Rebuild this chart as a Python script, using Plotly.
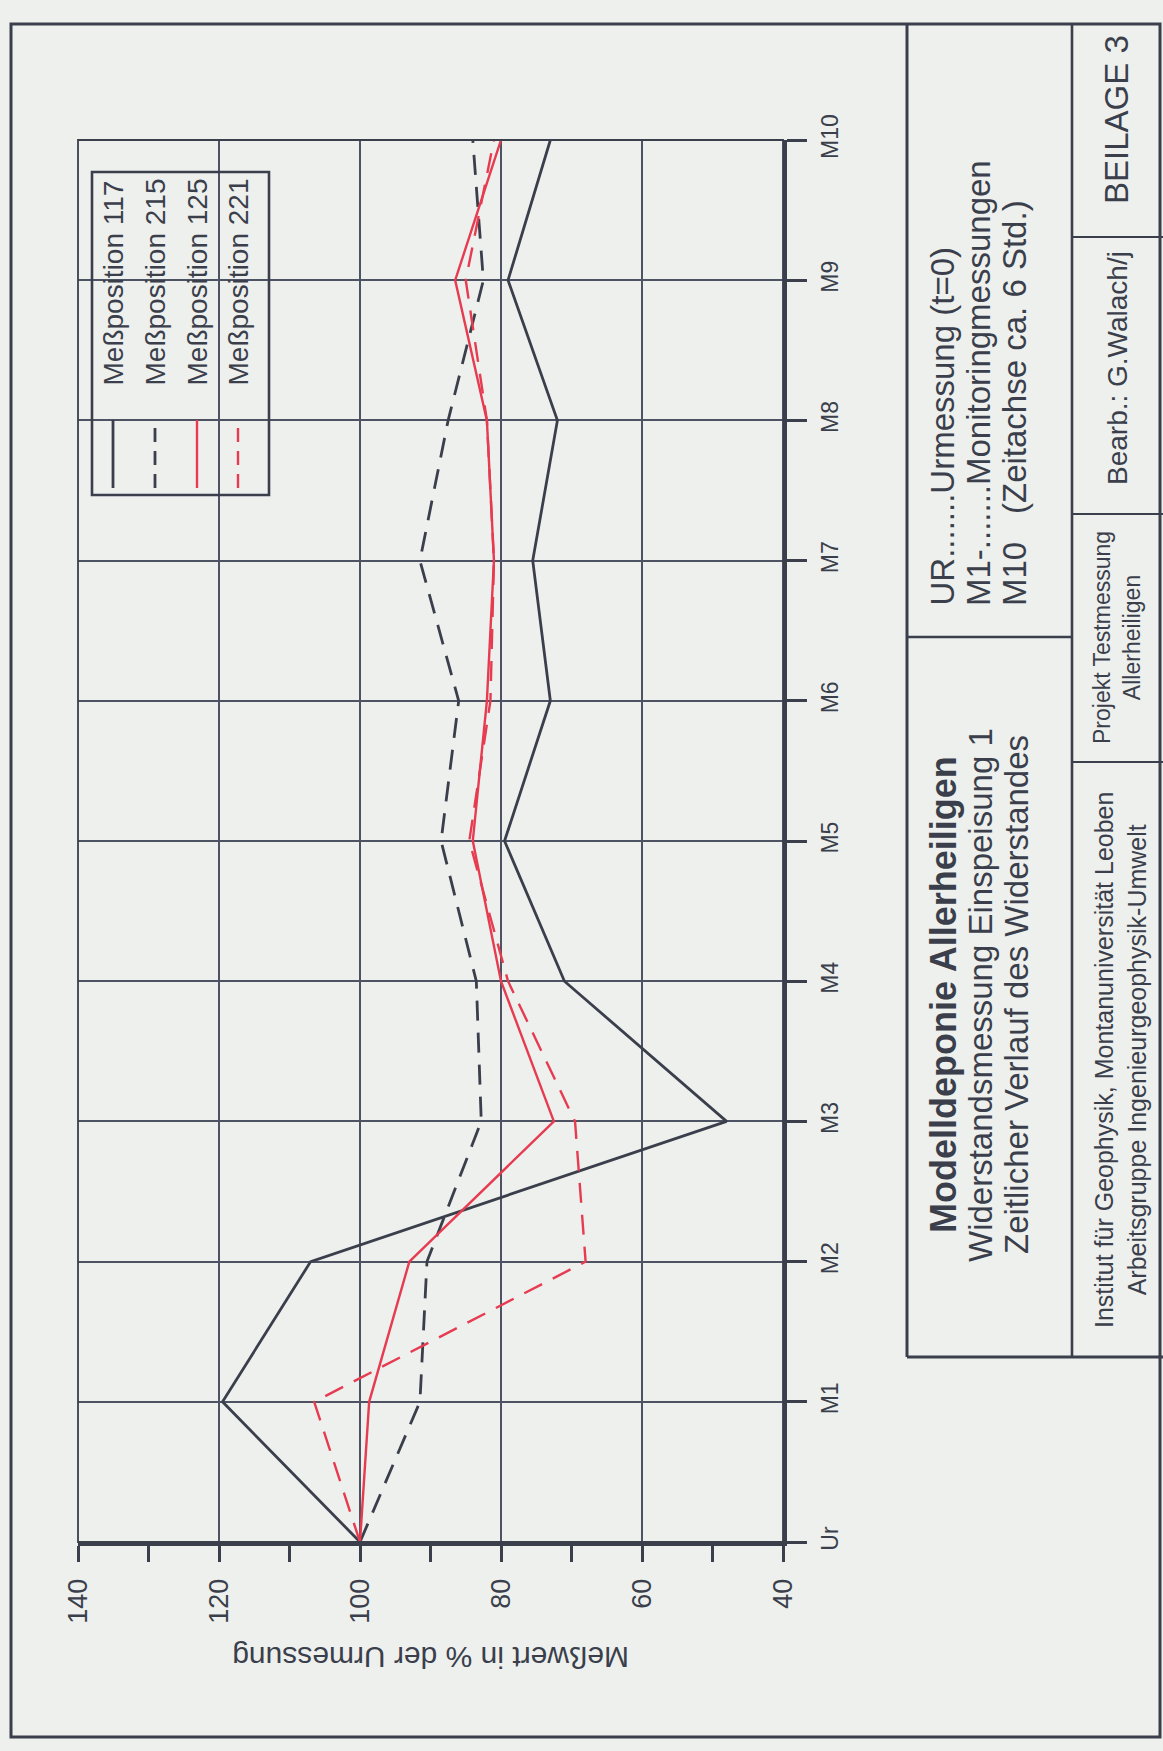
import plotly.graph_objects as go

# ---- data -------------------------------------------------------------
categories = ["Ur", "M1", "M2", "M3", "M4", "M5", "M6", "M7", "M8", "M9", "M10"]
mp117 = [100, 119.5, 107, 48, 71, 79.5, 73, 75.5, 72, 79, 73]
mp215 = [100, 91.5, 90.5, 82.8, 83.5, 88.5, 86, 91.5, 87.5, 82.5, 84]
mp125 = [100, 98.7, 93, 72.5, 80, 84, 82, 81, 82, 86.5, 80]
mp221 = [100, 106.5, 68, 69.5, 79, 84.5, 81.5, 81, 82, 85, 81]
series_names = ["Meßposition 117", "Meßposition 215", "Meßposition 125", "Meßposition 221"]
value_ticks = [140, 120, 100, 80, 60, 40]
axis_title = "Meßwert in % der Urmessung"

# ---- page geometry (pixels) ------------------------------------------
W, H = 1163, 1751
L, R, T, B = 78, 783, 140, 1542          # plot area edges

DARK = "#3a3f4b"
RED = "#e63b50"
GRID = "#4d5362"
BG = "#eef0ee"
FONT = "Liberation Sans, Arial, sans-serif"
NARROW = "Liberation Sans Narrow, Liberation Sans, Arial, sans-serif"


def px(x):
    return (x - L) / (R - L)


def py(y):
    return (B - y) / (B - T)


styles = [
    dict(color=DARK, width=2.8, dash="solid"),
    dict(color=DARK, width=2.8, dash="20px,12px"),
    dict(color=RED, width=2.4, dash="solid"),
    dict(color=RED, width=2.4, dash="20px,12px"),
]

fig = go.Figure()
for name, vals, st in zip(series_names, [mp117, mp215, mp125, mp221], styles):
    fig.add_trace(go.Scatter(x=vals, y=categories, mode="lines", name=name,
                             line=st, showlegend=False))

shapes = []
annotations = []


def line(x0, y0, x1, y1, w=2.0, color=DARK, dash=None):
    d = dict(type="line", xref="paper", yref="paper",
             x0=px(x0), y0=py(y0), x1=px(x1), y1=py(y1),
             line=dict(color=color, width=w))
    if dash:
        d["line"]["dash"] = dash
    shapes.append(d)


def rect(x0, y0, x1, y1, w=2.0):
    shapes.append(dict(type="rect", xref="paper", yref="paper",
                       x0=px(x0), y0=py(y0), x1=px(x1), y1=py(y1),
                       line=dict(color=DARK, width=w), fillcolor="rgba(0,0,0,0)"))


def vtext(text, x, y, size, yanchor="middle", family=FONT, align="center", angle=-90):
    annotations.append(dict(text=text, xref="paper", yref="paper", x=px(x), y=py(y),
                            xanchor="center", yanchor=yanchor, textangle=angle,
                            showarrow=False, align=align,
                            font=dict(family=family, size=size, color=DARK)))


# thin frame around the plot area
rect(L, T, R, B, w=1.8)

# legend box
rect(92, 172, 269, 495, w=2.6)
leg_x = [113, 155, 197, 238]
for xx, name, st in zip(leg_x, series_names, styles):
    line(xx, 488, xx, 420, w=st["width"], color=st["color"],
         dash=None if st["dash"] == "solid" else "14px,9px")
    vtext(name, xx, 388, 28, yanchor="bottom")

# outer page border
rect(11, 24, 1160, 1737, w=3)

# title block frame
line(907, 24, 907, 1357, w=3)
line(907, 1357, 1163, 1357, w=3)
line(1072, 24, 1072, 1357, w=2.6)
line(907, 637, 1072, 637, w=2.6)
for yy in [237, 514, 762]:
    line(1072, yy, 1163, yy, w=2.2)

# title block texts
vtext("UR.......Urmessung (t=0)", 942, 608, 33, yanchor="bottom")
vtext("M1-.......Monitoringmessungen", 978, 608, 33, yanchor="bottom")
vtext("M10", 1014, 608, 33, yanchor="bottom")
vtext("(Zeitachse ca. 6 Std.)", 1014, 516, 33, yanchor="bottom")

vtext("<b>Modelldeponie Allerheiligen</b>", 943, 995, 36)
vtext("Widerstandsmessung Einspeisung 1", 980, 995, 33)
vtext("Zeitlicher Verlauf des Widerstandes", 1016, 995, 33)

vtext("BEILAGE 3", 1117, 120, 33)
vtext("Bearb.: G.Walach/j", 1117, 368, 28)
vtext("Projekt Testmessung<br>Allerheiligen", 1117, 638, 23)
vtext("Institut für Geophysik, Montanuniversität Leoben<br>Arbeitsgruppe Ingenieurgeophysik-Umwelt",
      1120, 1060, 25)

# value-axis title (upside down, page is turned)
vtext(axis_title, (L + R) / 2, 1658, 30, angle=180)

fig.update_layout(
    width=W, height=H,
    margin=dict(l=L, r=W - R, t=T, b=H - B, pad=0),
    paper_bgcolor=BG, plot_bgcolor=BG,
    showlegend=False,
    shapes=shapes, annotations=annotations,
    font=dict(family=FONT, color=DARK),
)

fig.update_xaxes(
    range=[140, 40], tickvals=value_ticks, ticktext=[str(v) for v in value_ticks],
    showgrid=True, gridcolor=GRID, gridwidth=1.8,
    showline=True, linecolor=DARK, linewidth=4,
    ticks="outside", ticklen=16, tickwidth=2.6, tickcolor=DARK,
    tickangle=-90, tickfont=dict(size=27, family=FONT, color=DARK),
    ticklabelstandoff=6,
    minor=dict(dtick=10, ticks="outside", ticklen=16, tickwidth=2.6, tickcolor=DARK, showgrid=False),
    zeroline=False, fixedrange=True,
)
fig.update_yaxes(
    type="category", categoryorder="array", categoryarray=categories,
    range=[0, 10], side="right",
    showgrid=True, gridcolor=GRID, gridwidth=1.8,
    showline=True, linecolor=DARK, linewidth=4,
    ticks="outside", ticklen=20, tickwidth=2.6, tickcolor=DARK,
    tickangle=-90, tickfont=dict(size=23, family=NARROW, color=DARK),
    ticklabelstandoff=3,
    zeroline=False, fixedrange=True,
)

fig.write_html("out.html")
